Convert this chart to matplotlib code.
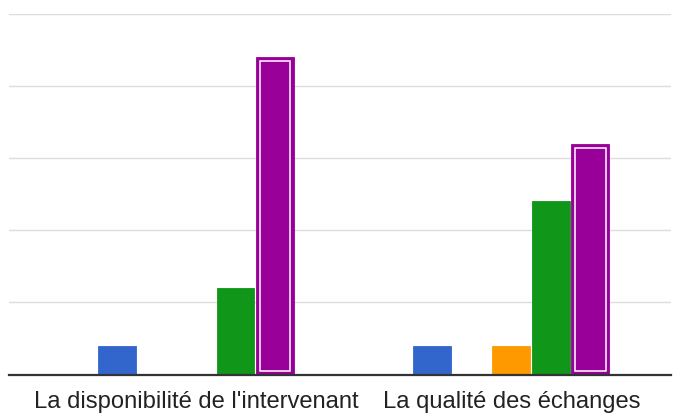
import matplotlib
matplotlib.use("Agg")
import matplotlib.pyplot as plt
import numpy as np

categories = ["La disponibilité de l'intervenant", "La qualité des échanges"]
series_names = ["S1", "S2", "S3", "S4", "S5"]
series_values = [
    [1, 1],   # blue
    [0, 0],   # red
    [0, 1],   # orange
    [3, 6],   # green
    [11, 8],  # purple
]
colors = ["#3366cc", "#dc3912", "#ff9900", "#109618", "#990099"]
y_ticks = [0, 2.5, 5, 7.5, 10, 12.5]

plt.rcParams['font.family'] = ['Liberation Sans', 'DejaVu Sans']

fig = plt.figure(figsize=(6.9, 4.14), dpi=100)
ax = fig.add_axes([9/690, 38.5/414, (671-9)/690, (375.5-14.7)/414])

x = np.arange(len(categories))
step = 0.1252
width = 0.1204
n = len(series_values)
for i, (vals, c) in enumerate(zip(series_values, colors)):
    pos = x + (i - (n - 1) / 2) * step
    vals = np.array(vals, dtype=float)
    ax.bar(pos, vals, width=width, color=c, edgecolor=c, linewidth=0.6, zorder=3)
    if i == n - 1:
        # highlighted series: white inner border
        ax.bar(pos, vals - 0.26, bottom=0.12, width=width - 0.024,
               facecolor='none', edgecolor='white', linewidth=1.1, zorder=4)

ax.set_xlim(-0.593, 1.506)
ax.set_ylim(0, 12.5)
ax.set_yticks(y_ticks)
ax.yaxis.grid(True, color='#dddddd', linewidth=1.0, zorder=0)
ax.tick_params(axis='y', left=False, labelleft=False)
ax.set_xticks(x)
ax.set_xticklabels(categories, fontsize=17.1, color='#222222')
ax.tick_params(axis='x', length=0, pad=11)
for s in ['top', 'right', 'left']:
    ax.spines[s].set_visible(False)
ax.spines['bottom'].set_color('#333333')
ax.spines['bottom'].set_linewidth(1.6)
ax.spines['bottom'].set_zorder(5)

fig.savefig("out.png", dpi=100)
